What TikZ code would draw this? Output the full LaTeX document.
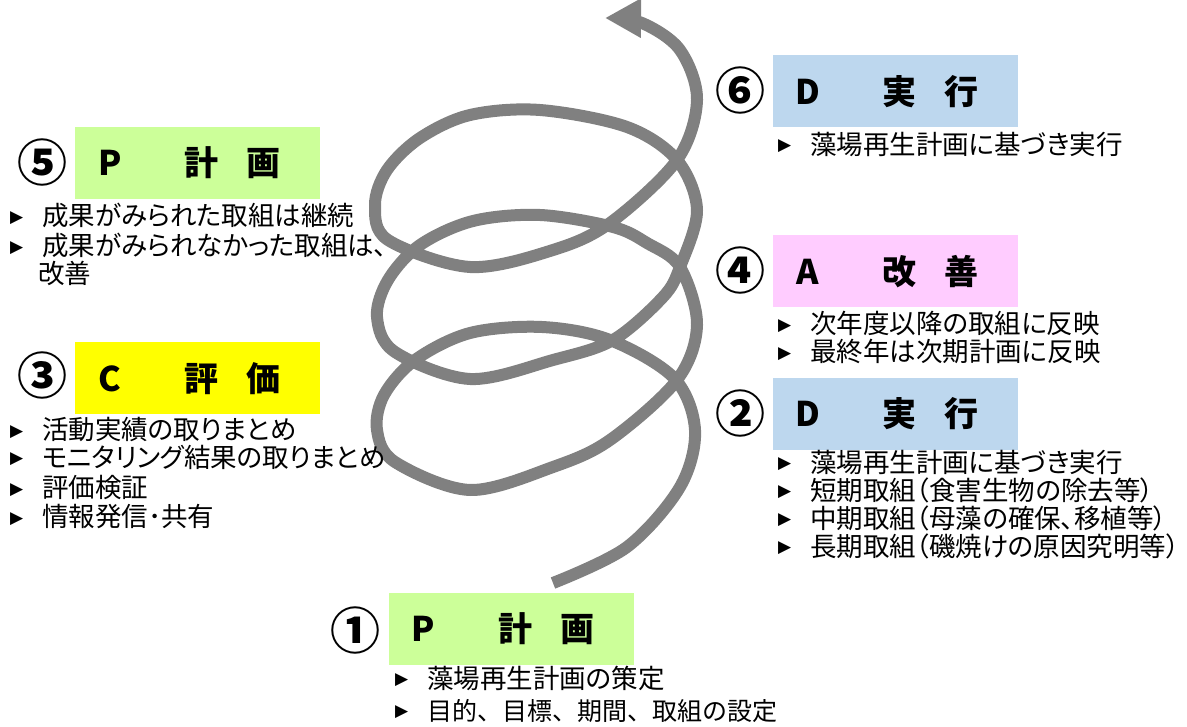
\documentclass[tikz,border=0pt]{standalone}
\usepackage{fontspec}
\setmainfont{Noto Sans CJK JP}[RawFeature=+palt]
\newfontfamily\fwfont{Noto Sans CJK JP}
\newfontfamily\trifont{DejaVu Sans}
\usetikzlibrary{arrows.meta}
\definecolor{pgreen}{HTML}{CCFF99}
\definecolor{pyellow}{HTML}{FFFF00}
\definecolor{pblue}{HTML}{BDD7EE}
\definecolor{ppink}{HTML}{FFCCFF}
\definecolor{spiralgray}{HTML}{808080}
\newcommand\ttl[3]{\hbox to 245pt{\hbox to 70pt{\hss#1\hss}\hskip27pt\hbox to 60pt{\hss#2\hss}\hskip2pt\hbox to 60pt{\hss#3\hss}\hss}}
\newcommand\itm[1]{\makebox[32pt][l]{\raisebox{3.5pt}{\trifont\fontsize{17pt}{17pt}\selectfont ▶}}#1}
\tikzset{
  phase/.style={rectangle, inner sep=0pt, minimum width=245pt, minimum height=72pt,
    font=\fwfont\bfseries\fontsize{34pt}{34pt}\selectfont},
  num/.style={inner sep=0pt, font=\fwfont\bfseries\fontsize{50pt}{50pt}\selectfont},
  item/.style={anchor=base west, inner sep=0pt, font=\fontsize{26.5pt}{26.5pt}\selectfont},
  spiralline/.style={draw=spiralgray, line width=12pt, line join=round,
    -{Triangle[width=37pt,length=36pt]}}
}
\begin{document}
\begin{tikzpicture}[x=1pt,y=-1pt]
\useasboundingbox (0,0) rectangle (1187,727);
\fill[white] (0,0) rectangle (1187,727);

% spiral
\draw[spiralline] plot[smooth, tension=0.55] coordinates {
 (553,583) (627,547) (680,487) (695,430) (674,378) (610,340) (542,327) (470,333)
 (415,360) (384,395) (377,430) (395,462) (470,490) (553,467) (610,440) (677,380)
 (697,325) (680,267) (647,243) (613,227) (540,215) (473,221) (420,245) (388,280)
 (377,317) (395,352) (470,379) (553,360) (613,340) (663,297) (680,267) (697,210)
 (677,160) (627,127) (540,110) (470,115) (420,138) (387,170) (375,205) (388,240)
 (470,267) (553,250) (610,223) (677,160) (697,100) (680,50) (642,23) (605,18)};

% phase boxes
\node[phase, fill=pblue]   (b6) at (895.5,91.5) {\ttl{D}{実}{行}};
\node[phase, fill=ppink]   (b4) at (895.5,271.5) {\ttl{A}{改}{善}};
\node[phase, fill=pblue]   (b2) at (895.5,414) {\ttl{D}{実}{行}};
\node[phase, fill=pgreen]  (b5) at (197.5,163) {\ttl{P}{計}{画}};
\node[phase, fill=pyellow] (b3) at (197.5,378.5) {\ttl{C}{評}{価}};
\node[phase, fill=pgreen]  (b1) at (511,629) {\ttl{P}{計}{画}};

% circled numbers
\node[num] (n6) at (740,91) {⑥};
\node[num] (n4) at (740,271) {④};
\node[num] (n2) at (740,413) {②};
\node[num] (n5) at (42,163) {⑤};
\node[num] (n3) at (42,376) {③};
\node[num] (n1) at (355,630) {①};

% item lists
\node[item] (t6a) at (778,154.5) {\itm{藻場再生計画に基づき実行}};

\node[item] (t4a) at (778,334) {\itm{次年度以降の取組に反映}};
\node[item] (t4b) at (778,362) {\itm{最終年は次期計画に反映}};

\node[item] (t2a) at (778,472) {\itm{藻場再生計画に基づき実行}};
\node[item] (t2b) at (778,500) {\itm{短期取組（食害生物の除去等）}};
\node[item] (t2c) at (778,528) {\itm{中期取組（母藻の確保、移植等）}};
\node[item] (t2d) at (778,556) {\itm{長期取組（磯焼けの原因究明等）}};

\node[item] (t5a) at (10,226) {\itm{成果がみられた取組は継続}};
\node[item] (t5b) at (10,256) {\itm{成果がみられなかった取組は、}};
\node[item] (t5c) at (38,284) {改善};

\node[item] (t3a) at (10,439.5) {\itm{活動実績の取りまとめ}};
\node[item] (t3b) at (10,467.5) {\itm{モニタリング結果の取りまとめ}};
\node[item] (t3c) at (10,497.5) {\itm{評価検証}};
\node[item] (t3d) at (10,526.5) {\itm{情報発信･共有}};

\node[item] (t1a) at (395,688) {\itm{藻場再生計画の策定}};
\node[item] (t1b) at (395,720) {\itm{{\fwfont\fontsize{25pt}{25pt}\selectfont 目的、目標、期間、取組の設定}}};
\end{tikzpicture}
\end{document}
